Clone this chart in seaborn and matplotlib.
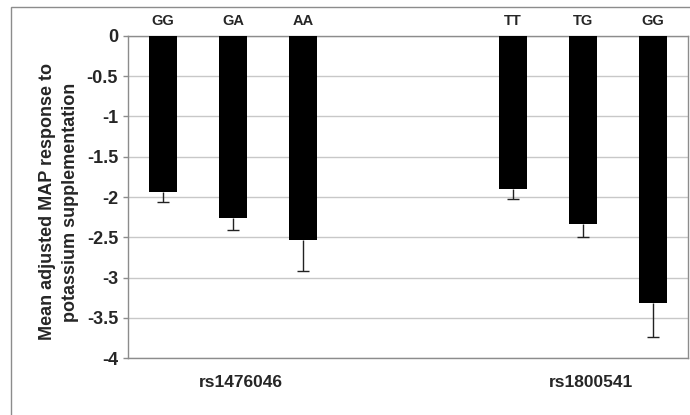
import matplotlib
matplotlib.use("Agg")
import matplotlib.pyplot as plt
import matplotlib.patches as mpatches
import matplotlib.transforms as mtransforms
import numpy as np
import pandas as pd
import seaborn as sns

# Mean adjusted MAP response by genotype, two SNPs
snps = ["rs1476046", "rs1476046", "rs1476046", "rs1800541", "rs1800541", "rs1800541"]
genotypes = ["GG", "GA", "AA", "TT", "TG", "GG"]
mean_response = [-1.94, -2.265, -2.53, -1.905, -2.33, -3.32]
sem = [0.125, 0.145, 0.39, 0.115, 0.17, 0.42]
y_ticks = [0, -0.5, -1, -1.5, -2, -2.5, -3, -3.5, -4]
y_tick_labels = ["0", "-0.5", "-1", "-1.5", "-2", "-2.5", "-3", "-3.5", "-4"]
group_names = ["rs1476046", "rs1800541"]

df = pd.DataFrame({"snp": snps, "genotype": genotypes,
                   "response": mean_response, "sem": sem})
df["slot"] = df["snp"] + " " + df["genotype"]

# two empty category slots separate the SNP groups
order = list(df["slot"][:3]) + ["gap1", "gap2"] + list(df["slot"][3:])
xpos = np.array([order.index(s) for s in df["slot"]])

sns.set_style("white")
plt.rcParams["font.family"] = ["Liberation Sans", "DejaVu Sans"]
plt.rcParams["font.weight"] = "bold"
plt.rcParams["axes.unicode_minus"] = False

fig = plt.figure(figsize=(6.9, 4.15), dpi=100)
fig.patch.set_facecolor("white")

# outer chart-area frame
frame = mpatches.Rectangle((11 / 690, -0.2), 1.3, 1.2 - 7 / 415,
                           transform=fig.transFigure, fill=False,
                           edgecolor="#8c8c8c", linewidth=1.0, zorder=0)
fig.patches.append(frame)

ax = fig.add_axes([128 / 690, 1 - 358 / 415, 560 / 690, 322 / 415])

sns.barplot(data=df, x="slot", y="response", order=order, color="black",
            saturation=1, width=0.41, errorbar=None, edgecolor="black",
            linewidth=0, ax=ax, zorder=3)

# downward-only error bars
eb = ax.errorbar(xpos, df["response"], yerr=[df["sem"], np.zeros(len(df))],
                 fmt="none", ecolor="#222222", elinewidth=1.0, capsize=4.3,
                 capthick=1.0, zorder=2)
caplines = eb.lines[1]
if len(caplines) > 1:
    caplines[1].set_visible(False)

ax.set_xlim(-0.5, len(order) - 0.5)
ax.set_ylim(-4, 0)
ax.set_yticks(y_ticks)
ax.set_yticklabels(y_tick_labels, fontsize=13, fontweight="bold")
ax.yaxis.grid(True, color="#c8c8c8", linewidth=1.0)
ax.xaxis.grid(False)
ax.set_axisbelow(True)
ax.set_xlabel("")
ax.set_ylabel("")
ax.tick_params(axis="x", length=0, labelbottom=False)
ax.tick_params(axis="y", left=True, direction="out", length=3.6, width=1,
               color="#8c8c8c", pad=3.6)
for side in ["left", "right", "top", "bottom"]:
    ax.spines[side].set_visible(True)
    ax.spines[side].set_color("#8c8c8c")
    ax.spines[side].set_linewidth(1.0)

# genotype labels above each bar
for x, g in zip(xpos, df["genotype"]):
    ax.annotate(g, xy=(x, 0), xytext=(0, 11), textcoords="offset points",
                ha="center", va="center", fontsize=10.5, fontweight="bold")

# SNP group labels below the plot
trans = mtransforms.blended_transform_factory(ax.transData, ax.transAxes)
for name in group_names:
    center = xpos[df["snp"] == name].mean() + 0.11
    ax.text(center, -0.075, name, transform=trans, ha="center", va="center",
            fontsize=12.5, fontweight="bold")

fig.text(59 / 690, 1 - 202 / 415,
         "Mean adjusted MAP response to\npotassium supplementation",
         rotation=90, ha="center", va="center", multialignment="center",
         fontsize=13, fontweight="bold", linespacing=1.4)

fig.savefig("out.png", dpi=100, facecolor="white")
